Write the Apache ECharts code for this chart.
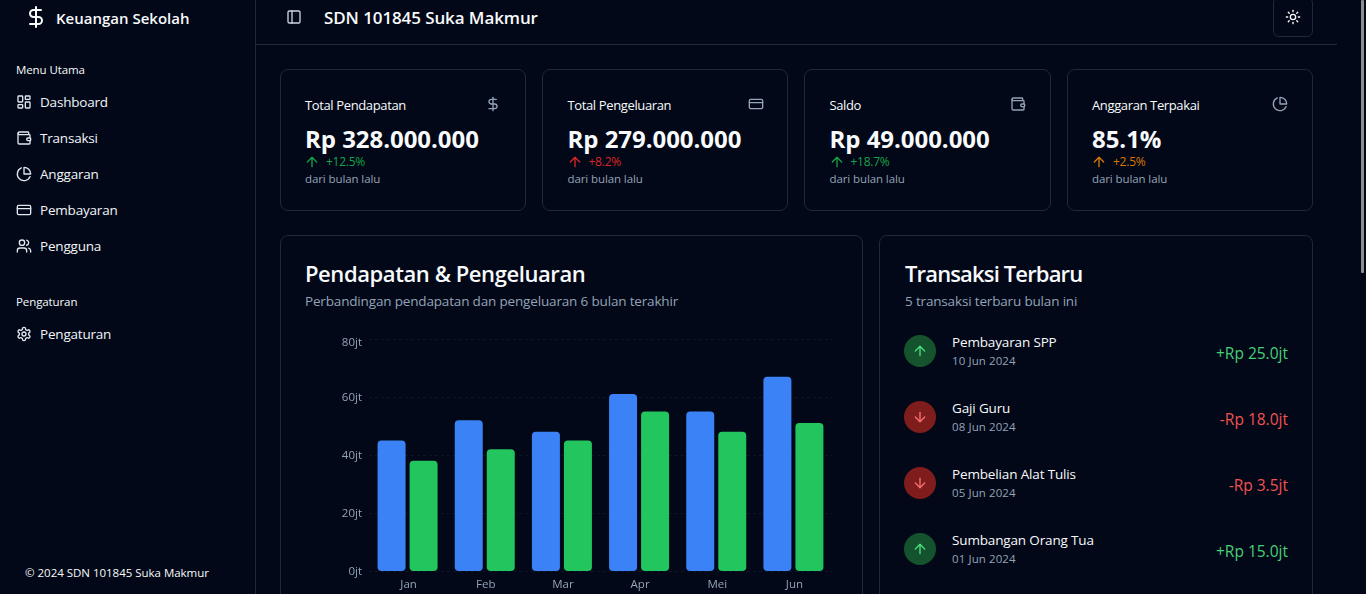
<!DOCTYPE html>
<html lang="id">
<head>
<meta charset="utf-8">
<title>Keuangan Sekolah</title>
<script src="https://cdn.jsdelivr.net/npm/echarts@6/dist/echarts.min.js"></script>
<style>
  * { box-sizing: border-box; margin: 0; padding: 0; }
  html, body { width: 1366px; height: 594px; overflow: hidden; background: #020817; color: #f8fafc; font-family: "Open Sans", sans-serif; }
  svg.ic { fill: none; stroke: currentColor; stroke-width: 2; stroke-linecap: round; stroke-linejoin: round; display: block; }
  .abs { position: absolute; white-space: nowrap; }
  #sidebar { position: absolute; left: 0; top: 0; width: 256px; height: 594px; border-right: 1px solid #1e293b; }
  .brand { font-size: 15px; line-height: 22px; font-weight: 600; letter-spacing: 0; }
  .group { font-size: 11.5px; line-height: 16px; letter-spacing: -.1px; }
  .menu { font-size: 13.5px; line-height: 20px; color: #f1f5f9; letter-spacing: -.2px; }
  .copy { font-size: 11.5px; line-height: 16px; letter-spacing: -.02px; }
  #topline { position: absolute; left: 256px; top: 44px; width: 1081px; height: 1px; background: #1e293b; }
  .school { font-size: 17px; line-height: 26px; font-weight: 600; letter-spacing: -.1px; }
  #theme { position: absolute; left: 1273px; top: -3px; width: 40px; height: 40px; border: 1px solid #1e293b; border-radius: 6px; }
  .card { position: absolute; border: 1px solid #1e293b; border-radius: 8px; background: #020817; }
  .k-label { font-size: 13px; line-height: 20px; letter-spacing: -.37px; }
  .k-value { font-size: 24px; line-height: 32px; font-weight: 700; letter-spacing: -.04px; }
  .k-delta { font-size: 12px; line-height: 16px; letter-spacing: -.25px; }
  .k-note { font-size: 11.5px; line-height: 16px; color: #94a3b8; letter-spacing: -.1px; }
  .c-title { font-size: 22px; line-height: 28px; font-weight: 600; letter-spacing: -.42px; }
  .c-title.tight { letter-spacing: -.85px; }
  .c-sub { font-size: 13.5px; line-height: 20px; color: #94a3b8; letter-spacing: -.165px; }
  .t-dot { position: absolute; width: 32px; height: 32px; border-radius: 50%; }
  .t-name { font-size: 13.5px; line-height: 20px; letter-spacing: -.15px; }
  .t-date { font-size: 11.5px; line-height: 16px; color: #94a3b8; letter-spacing: .1px; }
  .t-amt { font-size: 15.5px; line-height: 24px; letter-spacing: 0; text-align: right; }
  #chart { position: absolute; left: 305px; top: 330px; width: 534px; height: 264px; }
  #thumb { position: absolute; left: 1361px; top: 0; width: 3px; height: 273px; background: #8a8d93; border-radius: 1px; }
</style>
</head>
<body>
<div id="sidebar"></div>
<div id="topline"></div>
<div id="theme"></div>
<div id="thumb"></div>
<div id="chart"></div>
<script>
const months = ['Jan', 'Feb', 'Mar', 'Apr', 'Mei', 'Jun'];
const pendapatan = [45, 52, 48, 61, 55, 67];
const pengeluaran = [38, 42, 45, 55, 48, 51];

const menuUtama = ['Dashboard', 'Transaksi', 'Anggaran', 'Pembayaran', 'Pengguna'];
const menuIcons = ['dash', 'wallet', 'pie', 'card', 'users'];
const kpiLabels = ['Total Pendapatan', 'Total Pengeluaran', 'Saldo', 'Anggaran Terpakai'];
const kpiValues = ['Rp 328.000.000', 'Rp 279.000.000', 'Rp 49.000.000', '85.1%'];
const kpiDeltas = ['+12.5%', '+8.2%', '+18.7%', '+2.5%'];
const kpiIcons = ['dollar', 'card', 'wallet', 'pie'];
const kpiColors = ['#16a34a', '#dc2626', '#16a34a', '#d97706'];
const trxNames = ['Pembayaran SPP', 'Gaji Guru', 'Pembelian Alat Tulis', 'Sumbangan Orang Tua'];
const trxDates = ['10 Jun 2024', '08 Jun 2024', '05 Jun 2024', '01 Jun 2024'];
const trxAmounts = ['+Rp 25.0jt', '-Rp 18.0jt', '-Rp 3.5jt', '+Rp 15.0jt'];

const icons = {
  dollar: '<line x1="12" x2="12" y1="2" y2="22"/><path d="M17 5H9.5a3.5 3.5 0 0 0 0 7h5a3.5 3.5 0 0 1 0 7H6"/>',
  dash: '<rect width="7" height="9" x="3" y="3" rx="1"/><rect width="7" height="5" x="14" y="3" rx="1"/><rect width="7" height="9" x="14" y="12" rx="1"/><rect width="7" height="5" x="3" y="16" rx="1"/>',
  wallet: '<path d="M19 7V4a1 1 0 0 0-1-1H5a2 2 0 0 0 0 4h15a1 1 0 0 1 1 1v4h-3a2 2 0 0 0 0 4h3a1 1 0 0 0 1-1v-2a1 1 0 0 0-1-1"/><path d="M3 5v14a2 2 0 0 0 2 2h15a1 1 0 0 0 1-1v-4"/>',
  pie: '<path d="M21.21 15.89A10 10 0 1 1 8 2.83"/><path d="M22 12A10 10 0 0 0 12 2v10z"/>',
  card: '<rect width="20" height="14" x="2" y="5" rx="2"/><line x1="2" x2="22" y1="10" y2="10"/>',
  users: '<path d="M16 21v-2a4 4 0 0 0-4-4H6a4 4 0 0 0-4 4v2"/><circle cx="9" cy="7" r="4"/><path d="M22 21v-2a4 4 0 0 0-3-3.87"/><path d="M16 3.13a4 4 0 0 1 0 7.75"/>',
  gear: '<path d="M12.22 2h-.44a2 2 0 0 0-2 2v.18a2 2 0 0 1-1 1.73l-.43.25a2 2 0 0 1-2 0l-.15-.08a2 2 0 0 0-2.73.73l-.22.38a2 2 0 0 0 .73 2.73l.15.1a2 2 0 0 1 1 1.72v.51a2 2 0 0 1-1 1.74l-.15.09a2 2 0 0 0-.73 2.73l.22.38a2 2 0 0 0 2.73.73l.15-.08a2 2 0 0 1 2 0l.43.25a2 2 0 0 1 1 1.73V20a2 2 0 0 0 2 2h.44a2 2 0 0 0 2-2v-.18a2 2 0 0 1 1-1.73l.43-.25a2 2 0 0 1 2 0l.15.08a2 2 0 0 0 2.73-.73l.22-.39a2 2 0 0 0-.73-2.73l-.15-.08a2 2 0 0 1-1-1.74v-.5a2 2 0 0 1 1-1.74l.15-.09a2 2 0 0 0 .73-2.73l-.22-.38a2 2 0 0 0-2.73-.73l-.15.08a2 2 0 0 1-2 0l-.43-.25a2 2 0 0 1-1-1.73V4a2 2 0 0 0-2-2z"/><circle cx="12" cy="12" r="3"/>',
  panel: '<rect width="18" height="18" x="3" y="3" rx="2"/><path d="M9 3v18"/>',
  sun: '<circle cx="12" cy="12" r="4"/><path d="M12 2v2"/><path d="M12 20v2"/><path d="m4.93 4.93 1.41 1.41"/><path d="m17.66 17.66 1.41 1.41"/><path d="M2 12h2"/><path d="M20 12h2"/><path d="m6.34 17.66-1.41 1.41"/><path d="m19.07 4.93-1.41 1.41"/>',
  up: '<path d="m5 12 7-7 7 7"/><path d="M12 19V5"/>',
  down: '<path d="M12 5v14"/><path d="m19 12-7 7-7-7"/>'
};

const addIcon = (name, x, y, size, color) => {
  const d = document.createElement('div');
  d.className = 'abs';
  d.style.cssText = `left:${x}px;top:${y}px;color:${color}`;
  d.innerHTML = `<svg class="ic" width="${size}" height="${size}" viewBox="0 0 24 24">${icons[name]}</svg>`;
  document.body.appendChild(d);
};

const addText = (text, cls, x, y, color, right) => {
  const d = document.createElement('div');
  d.className = 'abs ' + cls;
  d.textContent = text;
  d.style.top = y + 'px';
  if (right !== undefined) d.style.right = (1366 - right) + 'px';
  else d.style.left = x + 'px';
  if (color) d.style.color = color;
  document.body.appendChild(d);
};

const addCard = (x, y, w, h) => {
  const d = document.createElement('div');
  d.className = 'card';
  d.style.cssText = `left:${x}px;top:${y}px;width:${w}px;height:${h}px`;
  document.body.insertBefore(d, document.getElementById('chart'));
};

// sidebar
addIcon('dollar', 24, 5, 24, '#f8fafc');
addText('Keuangan Sekolah', 'brand', 56, 7);
addText('Menu Utama', 'group', 16, 62);
menuUtama.forEach((m, i) => {
  addIcon(menuIcons[i], 16, 94 + i * 36, 16, '#e2e8f0');
  addText(m, 'menu', 40, 92 + i * 36);
});
addText('Pengaturan', 'group', 16, 294);
addIcon('gear', 16, 326, 16, '#e2e8f0');
addText('Pengaturan', 'menu', 40, 324);
addText('© 2024 SDN 101845 Suka Makmur', 'copy', 25, 565);

// header
addIcon('panel', 286, 9, 16, '#cbd5e1');
addText('SDN 101845 Suka Makmur', 'school', 324, 5);
addIcon('sun', 1285, 9, 16, '#f8fafc');

// kpi cards
const cardLeft = [280, 542, 804, 1067];
const cardWidth = [246, 246, 247, 246];
const textLeft = [305, 567.5, 829.5, 1092];
kpiLabels.forEach((label, i) => {
  const x = textLeft[i];
  addCard(cardLeft[i], 69, cardWidth[i], 142);
  addText(label, 'k-label', x, 95);
  addIcon(kpiIcons[i], x + 180, 96, 16, '#94a3b8');
  addText(kpiValues[i], 'k-value', x, 123);
  addIcon('up', x - 1, 154, 16, kpiColors[i]);
  addText(kpiDeltas[i], 'k-delta', x + 21, 154, kpiColors[i]);
  addText('dari bulan lalu', 'k-note', x, 171);
});

// chart card
addCard(280, 235, 583, 400);
addText('Pendapatan & Pengeluaran', 'c-title', 305, 259);
addText('Perbandingan pendapatan dan pengeluaran 6 bulan terakhir', 'c-sub', 305, 291);

// transaksi card
addCard(879, 235, 434, 400);
addText('Transaksi Terbaru', 'c-title tight', 905, 259);
addText('5 transaksi terbaru bulan ini', 'c-sub', 905, 291);
trxNames.forEach((name, i) => {
  const y = 335 + i * 66;
  const income = trxAmounts[i][0] === '+';
  const dot = document.createElement('div');
  dot.className = 't-dot';
  dot.style.cssText = `left:904px;top:${y}px;background:${income ? '#14532d' : '#7f1d1d'}`;
  document.body.appendChild(dot);
  addIcon(income ? 'up' : 'down', 912, y + 8, 16, income ? '#4ade80' : '#f87171');
  addText(name, 't-name', 952, y - 3);
  addText(trxDates[i], 't-date', 952, y + 18);
  addText(trxAmounts[i], 't-amt', null, y + 6, income ? '#46cf78' : '#f05252', 1288);
});

const chart = echarts.init(document.getElementById('chart'));
chart.setOption({
  animation: false,
  textStyle: { fontFamily: '"Open Sans", sans-serif' },
  tooltip: { trigger: 'axis' },
  grid: { left: 64, top: 9, width: 463, height: 232 },
  xAxis: {
    type: 'category',
    data: months,
    axisLine: { show: false },
    axisTick: { show: false },
    axisLabel: { color: '#94a3b8', fontSize: 11.5, margin: 8, padding: [0, 0, 0, 2] }
  },
  yAxis: {
    type: 'value',
    min: 0,
    max: 80,
    interval: 20,
    axisLabel: {
      color: '#94a3b8',
      fontSize: 11.5,
      margin: 7,
      // the top label sits lower than its gridline
      formatter: (v) => (v === 80 ? `{top|${v}jt}` : `{tick|${v}jt}`),
      rich: {
        top: { padding: [8, 0, 0, 0] },
        tick: { padding: [2, 0, 0, 0] }
      }
    },
    splitLine: { lineStyle: { color: '#1e293b', type: [3, 3], opacity: 0.4 } }
  },
  series: [
    {
      name: 'Pendapatan',
      type: 'bar',
      data: pendapatan,
      barWidth: 28,
      barGap: '14.3%',
      itemStyle: { color: '#3b82f6', borderRadius: 4 }
    },
    {
      name: 'Pengeluaran',
      type: 'bar',
      data: pengeluaran,
      barWidth: 28,
      itemStyle: { color: '#22c55e', borderRadius: 4 }
    }
  ]
});
</script>
</body>
</html>
